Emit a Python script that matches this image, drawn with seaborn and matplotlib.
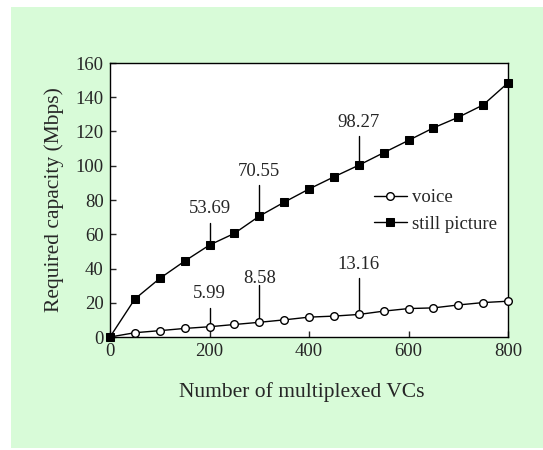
import matplotlib
matplotlib.use("Agg")
from matplotlib import pyplot as plt
from matplotlib.patches import Rectangle
import seaborn as sns
import pandas as pd

# data
vcs = [0, 50, 100, 150, 200, 250, 300, 350, 400, 450, 500, 550, 600, 650, 700, 750, 800]
voice = [0, 2.5, 3.7, 5.0, 5.99, 7.3, 8.58, 10.0, 11.6, 12.2, 13.16, 15.1, 16.6, 17.0, 18.7, 20.1, 20.9]
still_picture = [0, 22.2, 34.2, 44.3, 53.69, 60.5, 70.55, 78.7, 86.4, 93.5, 100.3, 107.6, 114.8,
                 122.1, 128.3, 135.5, 148.4]

# callouts: x position, series, label text
ann_x = [200, 300, 500, 200, 300, 500]
ann_series = ["still picture", "still picture", "still picture", "voice", "voice", "voice"]
ann_text = ["53.69", "70.55", "98.27", "5.99", "8.58", "13.16"]
# leader line top and text baseline (data units)
ann_line_top = [66.7, 88.7, 117.4, 16.9, 30.3, 34.6]
ann_text_y = [72.5, 94.0, 122.5, 22.7, 31.7, 39.7]

FS = 13.5        # ticks, legend, callouts
FS_LABEL = 15.5  # axis titles

df = pd.DataFrame({"vcs": vcs, "voice": voice, "still picture": still_picture})

sns.set_style("ticks")
plt.rcParams["font.family"] = ["Liberation Serif", "DejaVu Serif"]
plt.rcParams["font.size"] = FS

fig = plt.figure(figsize=(5.43, 4.5), dpi=100, facecolor="white")
fig.patches.append(Rectangle((11 / 543, 2 / 450), 1 - 11 / 543, 441 / 450,
                             transform=fig.transFigure, facecolor="#d8fbd8",
                             edgecolor="none", zorder=-10))
ax = fig.add_axes([110 / 543, 1 - 337 / 450, 398 / 543, 274 / 450])
ax.set_facecolor("white")

sns.lineplot(data=df, x="vcs", y="voice", ax=ax, color="black", lw=1,
             marker="o", markersize=5.5, markerfacecolor="white",
             markeredgecolor="black", markeredgewidth=1, clip_on=False,
             label="voice", zorder=3)
sns.lineplot(data=df, x="vcs", y="still picture", ax=ax, color="black", lw=1,
             marker="s", markersize=6, markerfacecolor="black",
             markeredgecolor="black", clip_on=False,
             label="still picture", zorder=4)

# callout leader lines and values
for x, s, t, top, ty in zip(ann_x, ann_series, ann_text, ann_line_top, ann_text_y):
    y = df.loc[df["vcs"] == x, s].iloc[0]
    ax.plot([x, x], [y, top], color="black", lw=1, zorder=2)
    ax.text(x, ty, t, ha="center", va="baseline", fontsize=FS)

ax.set_xlim(0, 800)
ax.set_ylim(0, 160)
ax.set_xticks([0, 200, 400, 600, 800])
ax.set_yticks(range(0, 161, 20))
ax.tick_params(direction="in", length=4, width=1, pad=4.5, labelsize=FS,
               top=False, right=False)
for sp in ax.spines.values():
    sp.set_visible(True)
    sp.set_color("black")
    sp.set_linewidth(1)

ax.set_xlabel("Number of multiplexed VCs", fontsize=FS_LABEL)
ax.set_ylabel("Required capacity (Mbps)", fontsize=FS_LABEL)
ax.xaxis.set_label_coords(0.481, -0.165)
ax.yaxis.set_label_coords(-0.115, 0.5)

ax.legend(loc="center left", bbox_to_anchor=(0.663, 0.46), frameon=False,
          handlelength=1.75, handletextpad=0.27, labelspacing=0.5,
          borderpad=0, borderaxespad=0, fontsize=FS)

fig.savefig("out.png", dpi=100, facecolor=fig.get_facecolor())
